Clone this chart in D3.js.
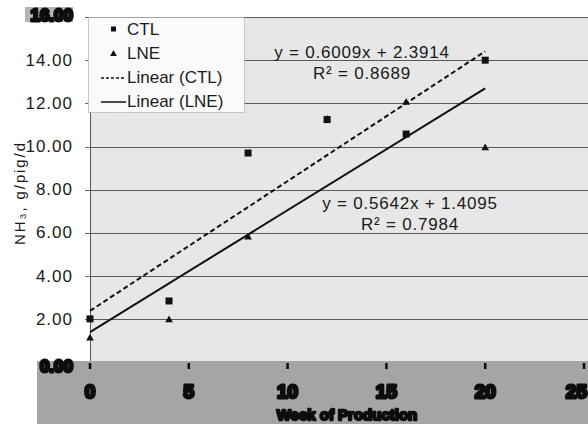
<!DOCTYPE html>
<html>
<head>
<meta charset="utf-8">
<script src="https://cdn.jsdelivr.net/npm/d3@7"></script>
<style>
  html, body { margin: 0; padding: 0; background: #fff; }
  svg { display: block; font-family: "Liberation Sans", Arial, sans-serif; }
</style>
</head>
<body>
<svg id="chart" width="588" height="424"></svg>
<script>
// Weekly NH3 emission per pig, two diets, with linear trends
const weeks = [0, 4, 8, 12, 16, 20];
const ctlValues = [2.02, 2.85, 9.7, 11.25, 10.58, 14.0];
const lneValues = [1.12, 1.97, 5.8, 11.25, 12.04, 9.93];
const ctlFit = { slope: 0.6009, intercept: 2.3914, r2: 0.8689 };
const lneFit = { slope: 0.5642, intercept: 1.4095, r2: 0.7984 };
const yTicks = [0, 2, 4, 6, 8, 10, 12, 14, 16];
const xTicks = [0, 5, 10, 15, 20, 25];
const legendItems = ["CTL", "LNE", "Linear (CTL)", "Linear (LNE)"];

const svg = d3.select("#chart");
const W = 588, H = 424;
const x = d3.scaleLinear().domain([0, 25]).range([90, 584]);
const y = d3.scaleLinear().domain([0, 16]).range([362.5, 17]);

const defs = svg.append("defs");
const smear = defs.append("filter").attr("id", "smear")
  .attr("x", "-10%").attr("y", "-20%").attr("width", "120%").attr("height", "140%");
smear.append("feGaussianBlur").attr("stdDeviation", 0.7);

// plot area background
svg.append("rect").attr("x", x(0)).attr("y", y(16))
  .attr("width", W - x(0)).attr("height", y(0) - y(16)).attr("fill", "#e7e7e7");

// horizontal gridlines
svg.append("g").selectAll("line").data(yTicks.filter(d => d > 0)).join("line")
  .attr("x1", x(0)).attr("x2", W)
  .attr("y1", d => Math.round(y(d)) + 0.5).attr("y2", d => Math.round(y(d)) + 0.5)
  .attr("stroke", "#5a5a5a").attr("stroke-width", 1);

// y axis line and ticks
svg.append("line").attr("x1", x(0) + 0.5).attr("x2", x(0) + 0.5)
  .attr("y1", y(16)).attr("y2", y(0)).attr("stroke", "#555");
svg.append("g").selectAll("line").data(yTicks.filter(d => d > 0)).join("line")
  .attr("x1", x(0) - 5).attr("x2", x(0))
  .attr("y1", d => Math.round(y(d)) + 0.5).attr("y2", d => Math.round(y(d)) + 0.5)
  .attr("stroke", "#666");

// y tick labels (inner ones)
svg.append("g").selectAll("text").data(yTicks.filter(d => d > 0 && d < 16)).join("text")
  .attr("x", 73).attr("y", d => y(d))
  .attr("text-anchor", "end").attr("dominant-baseline", "central")
  .attr("font-size", 17).attr("letter-spacing", 1).attr("fill", "#1a1a1a")
  .text(d => d3.format(".2f")(d));

// bottom band under the axis
svg.append("rect").attr("x", 37).attr("y", 361).attr("width", W - 37).attr("height", H - 361)
  .attr("fill", "#a5a5a5");
// shaded patch behind the top label
svg.append("rect").attr("x", 25).attr("y", 7).attr("width", 48).attr("height", 15).attr("fill", "#b5b5b5");

const bold = svg.append("g").attr("filter", "url(#smear)").attr("fill", "#0a0a0a")
  .attr("font-weight", "bold");
const heavy = sel => sel.style("stroke", "#0a0a0a").style("stroke-width", "3px")
  .style("stroke-linejoin", "round").style("paint-order", "stroke");

// end labels of the y axis
bold.selectAll("text.yend").data([0, 16]).join("text").attr("class", "yend")
  .attr("x", 73).attr("y", d => d === 0 ? 366 : 15)
  .attr("text-anchor", "end").attr("dominant-baseline", "central")
  .attr("font-size", 17).text(d => d3.format(".2f")(d)).call(heavy);

// x ticks and labels
bold.selectAll("line").data(xTicks).join("line")
  .attr("x1", d => x(d)).attr("x2", d => x(d)).attr("y1", 363).attr("y2", 369)
  .attr("stroke", "#0a0a0a").attr("stroke-width", 2.5);
bold.selectAll("text.xt").data(xTicks).join("text").attr("class", "xt")
  .attr("x", d => d === 25 ? W - 1 : x(d)).attr("y", 391)
  .attr("text-anchor", d => d === 25 ? "end" : "middle").attr("dominant-baseline", "central")
  .attr("font-size", 19).text(d => d).call(heavy);
bold.append("text").attr("x", 347).attr("y", 414)
  .attr("text-anchor", "middle").attr("dominant-baseline", "central")
  .attr("font-size", 15).text("Week of Production").call(heavy)
  .style("stroke-width", "2.4px");

// y axis title
svg.append("text")
  .attr("transform", "translate(19,194) rotate(-90)")
  .attr("text-anchor", "middle").attr("dominant-baseline", "central")
  .attr("font-size", 15).attr("fill", "#1a1a1a")
  .attr("textLength", 102).attr("lengthAdjust", "spacing")
  .text("NH\u2083, g/pig/d");

// trend lines from the fitted equations
const fitLine = f => [[0, f.intercept], [20, f.intercept + f.slope * 20]];
const line = d3.line().x(d => x(d[0])).y(d => y(d[1]));
svg.append("path").attr("d", line(fitLine(ctlFit)))
  .attr("fill", "none").attr("stroke", "#111").attr("stroke-width", 2).attr("stroke-dasharray", "5,3");
svg.append("path").attr("d", line(fitLine(lneFit)))
  .attr("fill", "none").attr("stroke", "#111").attr("stroke-width", 2);

// markers
const tri = d3.symbol().type(d3.symbolTriangle).size(26);
svg.append("g").selectAll("path").data(weeks.map((w, i) => [w, lneValues[i]])).join("path")
  .attr("d", tri).attr("transform", d => `translate(${x(d[0])},${y(d[1])})`).attr("fill", "#111");
svg.append("g").selectAll("rect").data(weeks.map((w, i) => [w, ctlValues[i]])).join("rect")
  .attr("x", d => x(d[0]) - 3.5).attr("y", d => y(d[1]) - 3.5)
  .attr("width", 7).attr("height", 7).attr("fill", "#111");

// equation labels
const fmt4 = d3.format(".4f");
function eqLabel(f, cx, cy) {
  const g = svg.append("g").attr("font-size", 17).attr("fill", "#1a1a1a").attr("text-anchor", "middle");
  g.append("text").attr("x", cx).attr("y", cy).attr("dominant-baseline", "central")
    .attr("letter-spacing", 0.8)
    .text(`y = ${fmt4(f.slope)}x + ${fmt4(f.intercept)}`);
  g.append("text").attr("x", cx + 0).attr("y", cy + 21).attr("dominant-baseline", "central")
    .attr("letter-spacing", 0.8)
    .text(`R\u00b2 = ${fmt4(f.r2)}`);
}
eqLabel(ctlFit, 362, 52);
eqLabel(lneFit, 410, 203);

// legend
const lg = svg.append("g");
lg.append("rect").attr("x", 88.5).attr("y", 17.5).attr("width", 156).attr("height", 95)
  .attr("fill", "#fafafa").attr("stroke", "#999").attr("stroke-dasharray", "1,1");
const rows = lg.selectAll("g").data(legendItems).join("g")
  .attr("transform", (d, i) => `translate(0,${29 + i * 24})`);
rows.append("text").attr("x", 127).attr("y", 0).attr("dominant-baseline", "central")
  .attr("font-size", 17).attr("fill", "#1a1a1a").text(d => d);
rows.filter((d, i) => i === 0).append("rect")
  .attr("x", 111).attr("y", -2.5).attr("width", 5).attr("height", 5).attr("fill", "#111");
rows.filter((d, i) => i === 1).append("path")
  .attr("d", d3.symbol().type(d3.symbolTriangle).size(20)).attr("transform", "translate(113.5,1)").attr("fill", "#111");
rows.filter((d, i) => i === 2).append("line")
  .attr("x1", 101).attr("x2", 126).attr("y1", 1).attr("y2", 1)
  .attr("stroke", "#111").attr("stroke-width", 1.5).attr("stroke-dasharray", "3,2");
rows.filter((d, i) => i === 3).append("line")
  .attr("x1", 101).attr("x2", 126).attr("y1", 1).attr("y2", 1)
  .attr("stroke", "#111").attr("stroke-width", 1.5);
</script>
</body>
</html>
